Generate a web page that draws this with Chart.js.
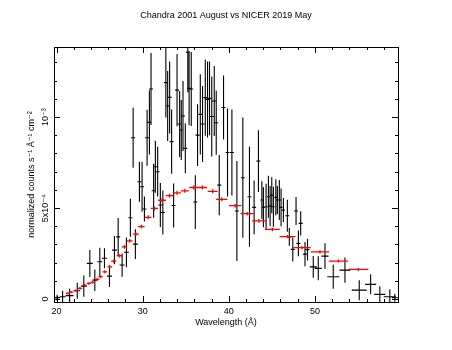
<!DOCTYPE html>
<html>
<head>
<meta charset="utf-8">
<script src="https://cdn.jsdelivr.net/npm/chart.js@4"></script>
<style>
  html, body { margin: 0; padding: 0; background: #fff; }
</style>
</head>
<body>
<canvas id="spectrumChart" width="452" height="350"></canvas>
<script>
// Chandra 2001 August vs NICER 2019 May
// flux values are in units of 1e-4 counts s^-1 A^-1 cm^-2

const chandraWave = [
  20.06, 20.70, 21.51, 22.40, 23.16, 23.86, 24.44, 25.02, 25.56, 26.14,
  26.72, 27.15, 27.61, 28.11, 28.57, 28.89, 29.15, 29.62, 29.93, 30.20,
  30.51, 30.78, 30.97, 31.27, 31.47, 31.74, 32.05, 32.34, 32.69, 32.90,
  33.13, 33.36, 33.59, 33.99, 34.29, 34.48, 34.68, 34.95, 35.24, 35.39,
  35.64, 36.11, 36.37, 36.69, 36.95, 37.27, 37.53, 37.76, 38.02, 38.31,
  38.54, 38.89, 39.39, 39.85, 40.36, 40.94, 41.63, 42.40, 42.94, 43.44,
  43.84, 44.02, 44.33, 44.60, 44.80, 44.99, 45.18, 45.46, 45.64, 45.87,
  46.07, 46.34, 46.80, 47.03, 47.43, 47.81, 48.08, 48.35, 48.85, 49.14,
  49.81, 50.39, 51.17, 52.13, 53.49, 55.15, 56.47, 57.54, 58.70, 59.28
];
const chandraWaveErr = [
  0.35, 0.35, 0.46, 0.35, 0.35, 0.35, 0.29, 0.29, 0.29, 0.29,
  0.29, 0.23, 0.29, 0.29, 0.23, 0.23, 0.29, 0.23, 0.23, 0.23,
  0.23, 0.23, 0.23, 0.23, 0.23, 0.23, 0.23, 0.23, 0.23, 0.23,
  0.23, 0.23, 0.23, 0.23, 0.23, 0.23, 0.23, 0.23, 0.23, 0.23,
  0.23, 0.23, 0.23, 0.23, 0.23, 0.23, 0.23, 0.23, 0.23, 0.23,
  0.23, 0.23, 0.23, 0.23, 0.23, 0.23, 0.23, 0.23, 0.23, 0.23,
  0.17, 0.17, 0.17, 0.17, 0.17, 0.17, 0.17, 0.17, 0.17, 0.17,
  0.17, 0.17, 0.23, 0.23, 0.23, 0.23, 0.23, 0.23, 0.23, 0.23,
  0.41, 0.41, 0.41, 0.70, 0.64, 0.87, 0.64, 0.64, 0.70, 0.35
];
const chandraFlux = [
  0.08, 0.13, 0.19, 0.46, 0.71, 1.96, 1.04, 2.05, 2.24, 1.26,
  2.69, 3.42, 1.87, 2.57, 4.47, 8.86, 3.02, 6.45, 6.17, 4.95,
  8.86, 9.71, 11.54, 5.95, 7.27, 7.00, 5.17, 4.76, 11.89, 10.61,
  11.08, 8.65, 5.14, 11.48, 9.62, 9.29, 10.06, 8.28, 13.57, 11.58,
  11.54, 5.33, 9.01, 10.15, 9.62, 11.07, 10.97, 11.03, 10.03, 10.88,
  9.69, 6.26, 10.53, 8.05, 8.05, 4.84, 6.67, 5.62, 5.04, 7.58,
  5.44, 5.04, 5.07, 5.62, 5.11, 5.71, 5.07, 5.59, 5.44, 5.44,
  5.04, 4.89, 4.58, 3.42, 2.73, 4.84, 3.06, 4.16, 2.47, 2.72,
  1.77, 1.69, 2.36, 1.23, 1.59, 0.49, 0.81, 0.26, 0.13, 0.07
];
const chandraFluxErr = [
  0.16, 0.33, 0.38, 0.44, 0.58, 0.74, 0.59, 0.77, 0.55, 0.60,
  0.77, 1.04, 0.64, 0.82, 1.04, 1.65, 0.82, 1.10, 1.37, 0.69,
  1.54, 1.76, 1.98, 1.48, 1.43, 1.37, 1.21, 1.21, 1.92, 1.92,
  1.98, 1.76, 1.21, 1.98, 1.81, 1.65, 1.92, 1.37, 2.20, 2.03,
  2.03, 1.48, 1.70, 2.20, 2.09, 2.09, 2.09, 2.03, 2.20, 1.92,
  1.76, 1.65, 1.76, 2.42, 2.36, 2.75, 3.30, 2.75, 1.48, 1.70,
  1.04, 1.10, 1.26, 1.15, 1.10, 0.99, 1.10, 0.99, 0.77, 1.10,
  1.04, 0.66, 0.88, 0.49, 0.66, 0.77, 0.71, 0.66, 0.66, 0.60,
  0.60, 0.66, 0.71, 0.66, 0.69, 0.55, 0.55, 0.44, 0.41, 0.22
];

const nicerWave = [
  21.31, 21.70, 22.20, 22.70, 23.24, 23.74, 24.17, 24.72, 25.10, 25.60,
  26.18, 26.64, 27.30, 27.88, 28.49, 29.21, 29.85, 30.63, 31.36, 32.25,
  33.12, 33.99, 34.89, 35.93, 36.92, 38.13, 39.18, 40.74, 42.13, 43.49,
  45.06, 46.82, 48.50, 50.59, 52.73, 55.03
];
const nicerWaveErr = [
  0.22, 0.22, 0.24, 0.25, 0.25, 0.24, 0.25, 0.25, 0.25, 0.27,
  0.28, 0.30, 0.32, 0.32, 0.34, 0.36, 0.38, 0.40, 0.42, 0.45,
  0.45, 0.45, 0.48, 0.52, 0.55, 0.58, 0.66, 0.72, 0.76, 0.80,
  0.86, 0.92, 1.00, 1.06, 1.12, 1.18
];
const nicerFlux = [
  0.31, 0.38, 0.46, 0.59, 0.77, 0.86, 0.92, 1.08, 1.23, 1.50,
  1.77, 2.09, 2.38, 2.87, 3.20, 3.57, 3.98, 4.49, 4.98, 5.43,
  5.68, 5.84, 5.95, 6.13, 6.13, 5.92, 5.48, 5.13, 4.69, 4.30,
  3.83, 3.43, 2.83, 2.59, 2.09, 1.63
];
const nicerFluxErr = [
  0.06, 0.06, 0.06, 0.07, 0.07, 0.07, 0.07, 0.08, 0.08, 0.08,
  0.09, 0.09, 0.09, 0.10, 0.10, 0.10, 0.10, 0.11, 0.11, 0.11,
  0.11, 0.11, 0.11, 0.11, 0.11, 0.11, 0.11, 0.10, 0.10, 0.10,
  0.10, 0.09, 0.09, 0.09, 0.08, 0.08
];

const xTicks = [20, 30, 40, 50];
const yTicks = [0, 5, 10];
const yTickLabels = ["0", "5x10\u207B\u2074", "10\u207B\u00B3"];

Chart.defaults.font.family = '"Liberation Sans", Arial, Helvetica, "DejaVu Sans", sans-serif';
Chart.defaults.color = "#000";

function toPoints(wave, waveErr, flux, fluxErr) {
  return wave.map((w, i) => ({ x: w, y: flux[i], xErr: waveErr[i], yErr: fluxErr[i] }));
}

// draws the x/y error crosses for every dataset
const errorBars = {
  id: "errorBars",
  afterDatasetsDraw(chart) {
    const { ctx, chartArea, scales } = chart;
    ctx.save();
    ctx.beginPath();
    ctx.rect(chartArea.left, chartArea.top, chartArea.right - chartArea.left, chartArea.bottom - chartArea.top);
    ctx.clip();
    chart.data.datasets.forEach((ds) => {
      ctx.strokeStyle = ds.borderColor;
      ctx.lineWidth = ds.borderWidth;
      ctx.beginPath();
      ds.data.forEach((p) => {
        const px = scales.x.getPixelForValue(p.x);
        const py = scales.y.getPixelForValue(p.y);
        ctx.moveTo(scales.x.getPixelForValue(p.x - p.xErr), py);
        ctx.lineTo(scales.x.getPixelForValue(p.x + p.xErr), py);
        ctx.moveTo(px, scales.y.getPixelForValue(p.y - p.yErr));
        ctx.lineTo(px, scales.y.getPixelForValue(p.y + p.yErr));
      });
      ctx.stroke();
    });
    ctx.restore();
  },
};

// box frame with inward ticks on all sides, rotated y labels
const frame = {
  id: "frame",
  afterDraw(chart) {
    const { ctx, chartArea: a } = chart;
    const x = chart.scales.x;
    const y = chart.scales.y;
    ctx.save();
    ctx.strokeStyle = "#000";
    ctx.lineWidth = 1;
    ctx.strokeRect(a.left + 0.5, a.top + 0.5, a.right - a.left, a.bottom - a.top);

    ctx.beginPath();
    for (let v = Math.ceil(x.min / 2) * 2; v <= x.max; v += 2) {
      const px = Math.round(x.getPixelForValue(v)) + 0.5;
      const len = v % 10 === 0 ? 6 : 3;
      ctx.moveTo(px, a.bottom);
      ctx.lineTo(px, a.bottom - len);
      ctx.moveTo(px, a.top);
      ctx.lineTo(px, a.top + len);
    }
    for (let v = Math.ceil(y.min); v <= y.max; v += 1) {
      const py = Math.round(y.getPixelForValue(v)) + 0.5;
      const len = v % 5 === 0 ? 6 : 3;
      ctx.moveTo(a.left, py);
      ctx.lineTo(a.left + len, py);
      ctx.moveTo(a.right, py);
      ctx.lineTo(a.right - len, py);
    }
    ctx.stroke();

    ctx.fillStyle = "#000";
    ctx.font = '9px "Liberation Sans", Arial, Helvetica, "DejaVu Sans", sans-serif';
    ctx.textAlign = "center";
    ctx.textBaseline = "middle";
    yTicks.forEach((v, i) => {
      ctx.save();
      ctx.translate(a.left - 8, y.getPixelForValue(v));
      ctx.rotate(-Math.PI / 2);
      ctx.fillText(yTickLabels[i], 0, 0);
      ctx.restore();
    });
    ctx.restore();
  },
};

const ctx = document.getElementById("spectrumChart").getContext("2d");
new Chart(ctx, {
  type: "scatter",
  data: {
    datasets: [
      {
        label: "Chandra 2001 August",
        data: toPoints(chandraWave, chandraWaveErr, chandraFlux, chandraFluxErr),
        borderColor: "#000000",
        borderWidth: 1.1,
        pointRadius: 0,
      },
      {
        label: "NICER 2019 May",
        data: toPoints(nicerWave, nicerWaveErr, nicerFlux, nicerFluxErr),
        borderColor: "#ff0000",
        borderWidth: 1.3,
        pointRadius: 0,
      },
    ],
  },
  options: {
    responsive: false,
    animation: false,
    layout: { padding: 0 },
    plugins: {
      legend: { display: false },
      tooltip: { enabled: false },
      title: {
        display: true,
        text: "Chandra 2001 August vs NICER 2019 May",
        color: "#000",
        font: { size: 9, weight: "normal" },
        padding: { top: 10, bottom: 26.2 },
      },
    },
    scales: {
      x: {
        type: "linear",
        min: 19.7,
        max: 59.65,
        afterBuildTicks: (s) => {
          s.ticks = xTicks.map((v) => ({ value: v }));
        },
        afterFit: (s) => {
          s.height = 48;
        },
        grid: { display: false, drawTicks: false },
        border: { display: false },
        ticks: { font: { size: 9 }, padding: 4, maxRotation: 0, autoSkip: false },
        title: {
          display: true,
          text: "Wavelength (\u00C5)",
          font: { size: 9 },
          padding: { top: 0, bottom: 22 },
        },
      },
      y: {
        type: "linear",
        min: -0.16,
        max: 13.85,
        afterFit: (s) => {
          s.width = 54;
        },
        grid: { display: false },
        border: { display: false },
        ticks: { display: false },
        title: {
          display: true,
          text: "normalized counts s\u207B\u00B9 \u00C5\u207B\u00B9 cm\u207B\u00B2",
          font: { size: 9 },
          padding: { top: 26, bottom: 0 },
        },
      },
      yRight: {
        type: "linear",
        position: "right",
        min: -0.16,
        max: 13.85,
        afterFit: (s) => {
          s.width = 54;
        },
        grid: { display: false },
        border: { display: false },
        ticks: { display: false },
      },
    },
  },
  plugins: [errorBars, frame],
});
</script>
</body>
</html>
